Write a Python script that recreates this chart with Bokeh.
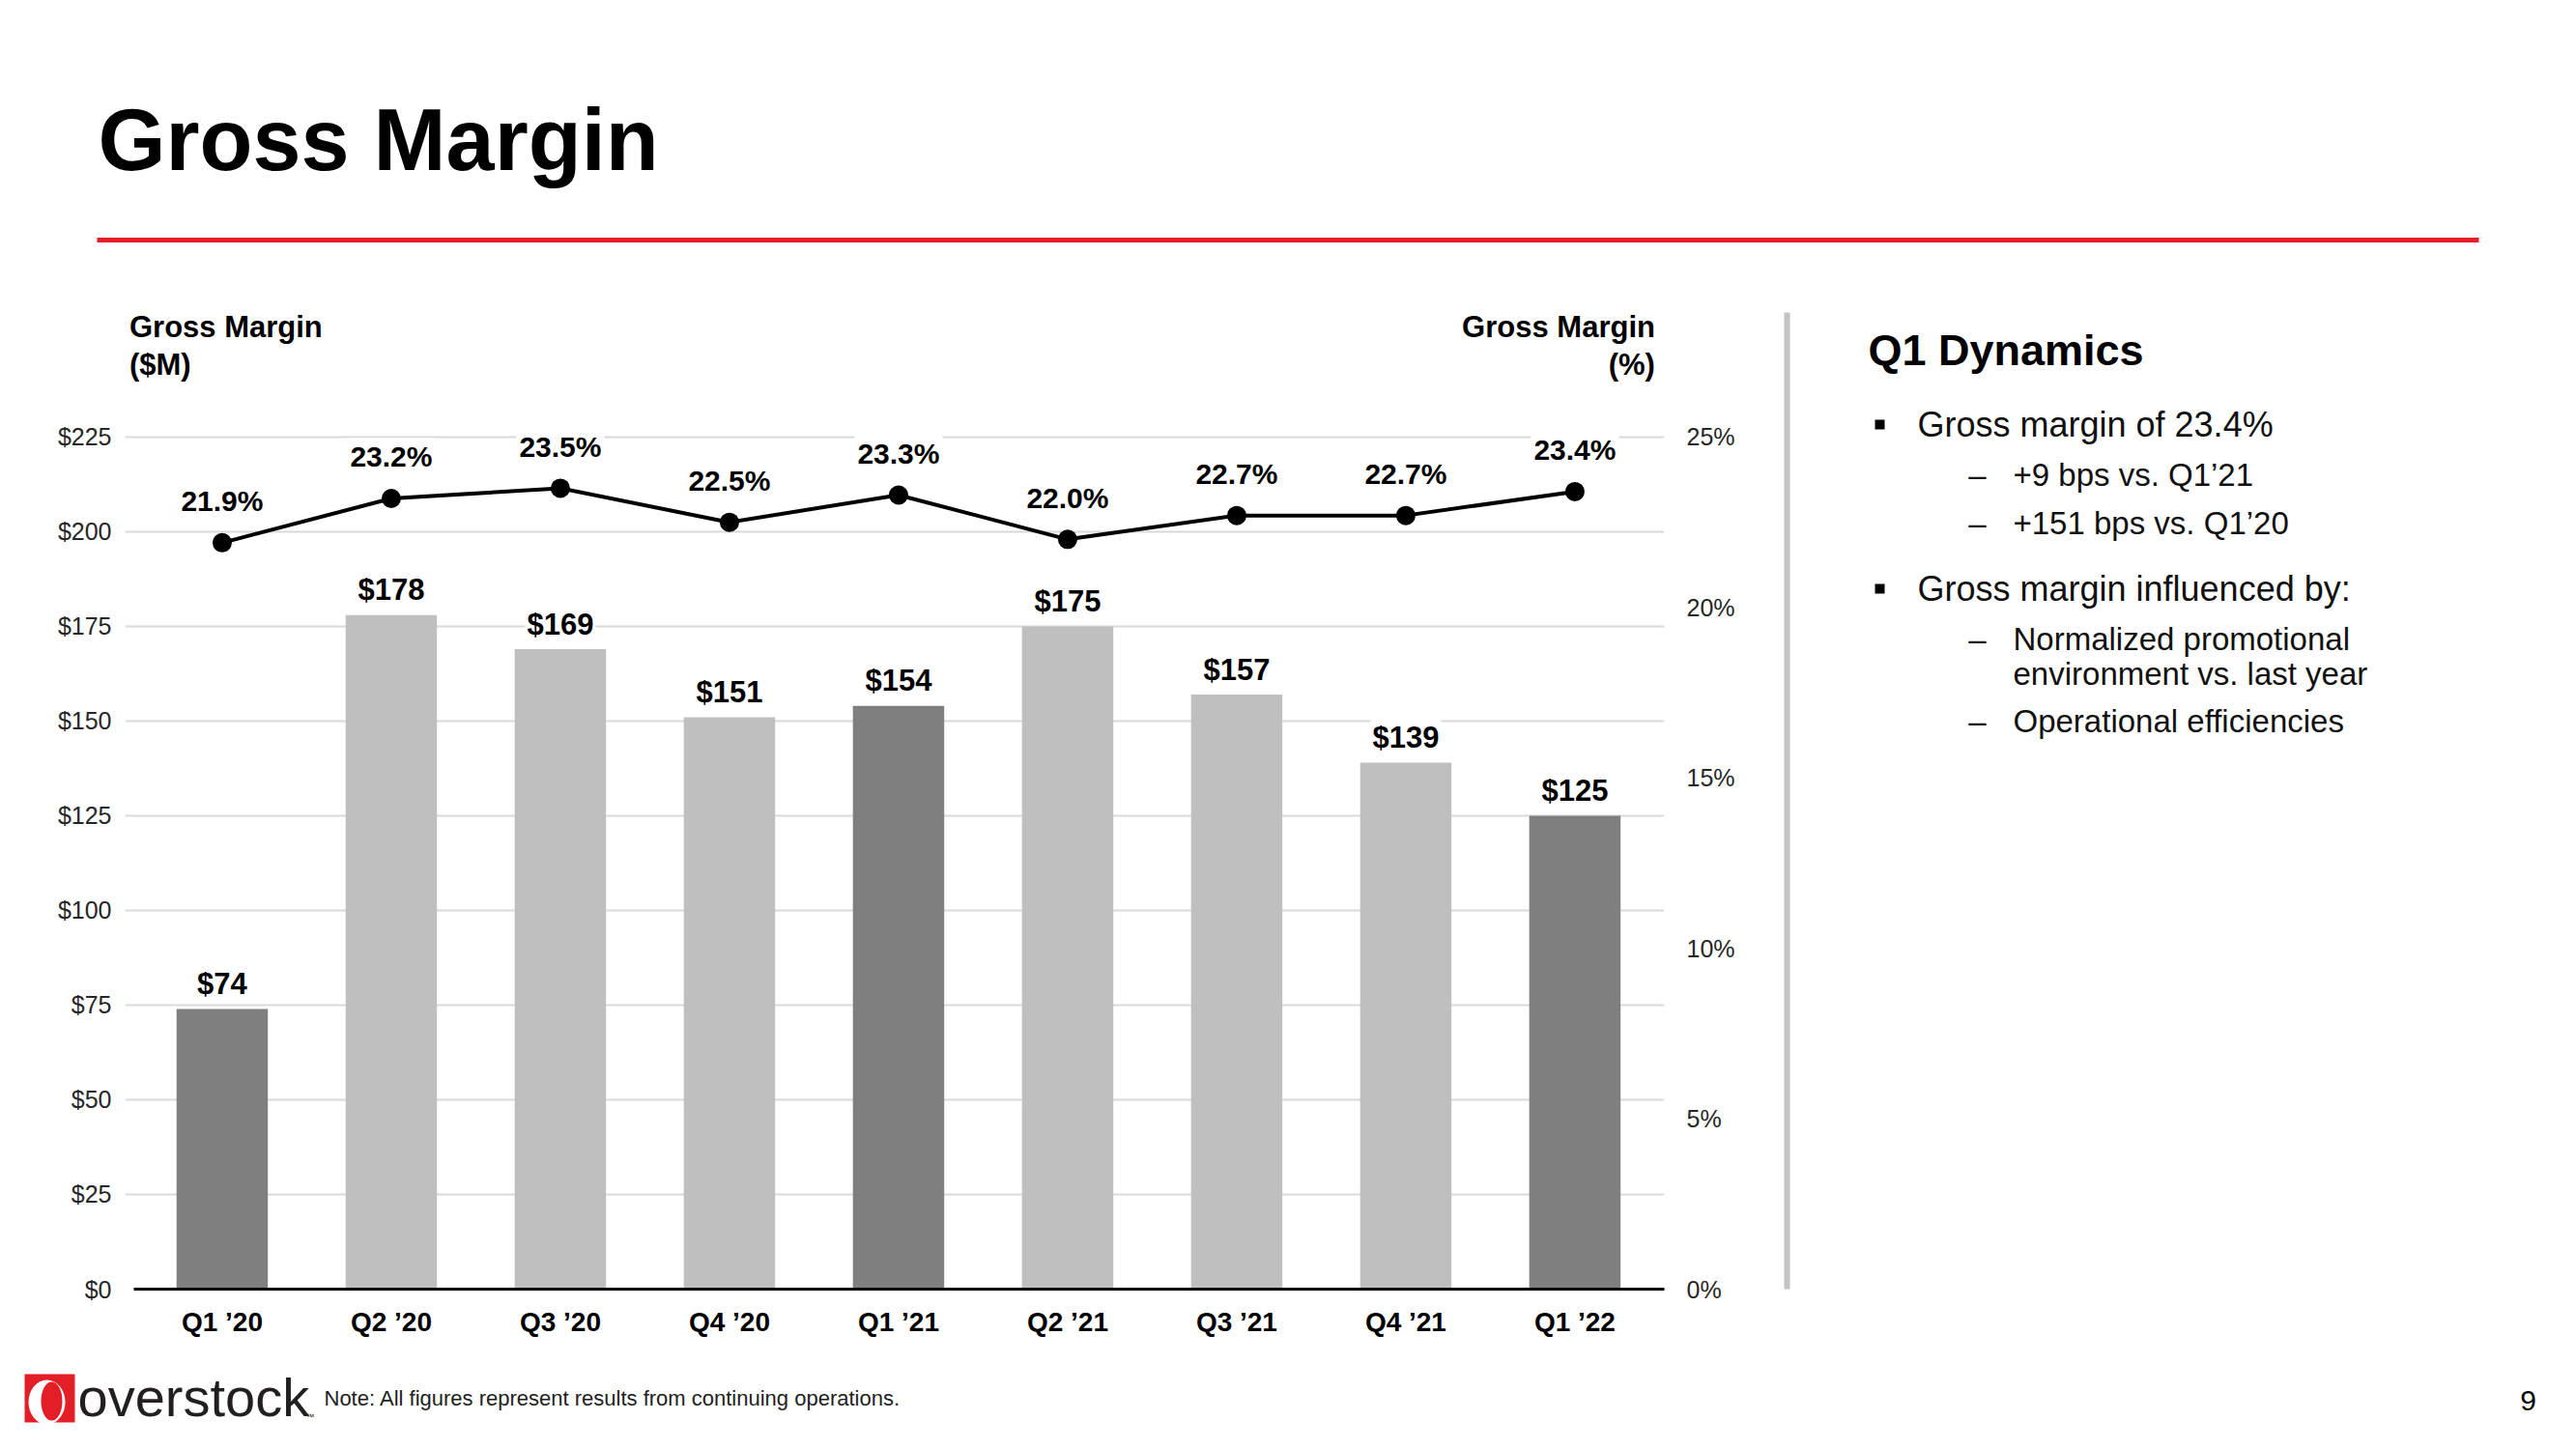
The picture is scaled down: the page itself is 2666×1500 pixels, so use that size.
from bokeh.plotting import figure
from bokeh.models import Range1d, LinearAxis, FixedTicker, PrintfTickFormatter, ColumnDataSource
from bokeh.layouts import column, row
from bokeh.embed import file_html
from bokeh.resources import INLINE
from bokeh.core.properties import value

# ---------------- data ----------------
quarters = ["Q1 ’20", "Q2 ’20", "Q3 ’20", "Q4 ’20", "Q1 ’21", "Q2 ’21", "Q3 ’21", "Q4 ’21", "Q1 ’22"]
gross_margin_musd = [74, 178, 169, 151, 154, 175, 157, 139, 125]
gross_margin_pct = [21.9, 23.2, 23.5, 22.5, 23.3, 22.0, 22.7, 22.7, 23.4]
usd_ticks = [0, 25, 50, 75, 100, 125, 150, 175, 200, 225]
pct_ticks = [0, 5, 10, 15, 20, 25]

title_text = "Gross Margin"
left_axis_title = ["Gross Margin", "($M)"]
right_axis_title = ["Gross Margin", "(%)"]
panel_title = "Q1 Dynamics"
bullet_1 = "Gross margin of 23.4%"
bullet_1_subs = ["+9 bps vs. Q1’21", "+151 bps vs. Q1’20"]
bullet_2 = "Gross margin influenced by:"
bullet_2_subs = [["Normalized promotional", "environment vs. last year"], ["Operational efficiencies"]]
note_text = "Note: All figures represent results from continuing operations."
page_number = "9"

FONT = value("Liberation Sans")
RED = "#E31E26"
DARK = "#7F7F7F"
LIGHT = "#BFBFBF"

TOTAL_W, TOTAL_H = 2650, 1484
HEAD_H = 298
CH_W, CH_H = 1830, 1102
FOOT_H = TOTAL_H - HEAD_H - CH_H
TOP_B, BOT_B = 22, 66


def blank(w, h, x0, y0, y1, **kw):
    f = figure(width=w, height=h, output_backend="svg", toolbar_location=None,
               x_range=Range1d(x0, x0 + w), y_range=Range1d(y1, y0),
               x_axis_type=None, y_axis_type=None, min_border=0, **kw)
    f.outline_line_color = None
    f.grid.visible = False
    return f


# ---------------- header (page coordinates) ----------------
head = blank(TOTAL_W, HEAD_H, 0, 0, HEAD_H)
head.text(x=[101], y=[144], text=[title_text], text_font=FONT, text_font_style="bold",
          text_font_size="90px", text_color="black", text_baseline="middle")
head.segment(x0=[100], y0=[248], x1=[2565], y1=[248], line_color=RED, line_width=5)

# ---------------- chart ----------------
idx = list(range(len(quarters)))
y_end = 258.67
ch = figure(width=CH_W, height=CH_H, output_backend="svg", toolbar_location=None,
            x_range=Range1d(-0.574, 8.529), y_range=Range1d(0, y_end),
            min_border_left=129, min_border_right=108, min_border_top=TOP_B, min_border_bottom=BOT_B)
ch.extra_y_ranges = {"pct": Range1d(0, y_end * pct_ticks[-1] / usd_ticks[-1])}
ch.outline_line_color = None
ch.background_fill_color = "white"

ch.xgrid.visible = False
ch.ygrid.ticker = FixedTicker(ticks=usd_ticks)
ch.ygrid.grid_line_color = "#D9D9D9"
ch.ygrid.grid_line_width = 2

ya = ch.yaxis[0]
ya.ticker = FixedTicker(ticks=usd_ticks)
ya.formatter = PrintfTickFormatter(format="$%d")
ya.axis_line_color = None
ya.major_tick_line_color = None
ya.minor_tick_line_color = None
ya.major_label_standoff = 8
ya.major_label_text_font = "Liberation Sans"
ya.major_label_text_font_size = "25px"
ya.major_label_text_color = "#262626"

xa = ch.xaxis[0]
xa.ticker = FixedTicker(ticks=idx)
xa.major_label_overrides = {i: q for i, q in enumerate(quarters)}
xa.axis_line_color = "black"
xa.axis_line_width = 3
xa.bounds = (-0.52, 8.529)
xa.major_tick_line_color = None
xa.minor_tick_line_color = None
xa.major_label_standoff = 12
xa.major_label_text_font = "Liberation Sans"
xa.major_label_text_font_style = "bold"
xa.major_label_text_font_size = "28px"
xa.major_label_text_color = "black"

ra = LinearAxis(y_range_name="pct", ticker=FixedTicker(ticks=pct_ticks),
                formatter=PrintfTickFormatter(format="%d%%"))
ra.axis_line_color = None
ra.major_tick_line_color = None
ra.minor_tick_line_color = None
ra.major_label_standoff = 17
ra.major_label_text_font = "Liberation Sans"
ra.major_label_text_font_size = "25px"
ra.major_label_text_color = "#262626"
ch.add_layout(ra, "right")

src = ColumnDataSource(dict(
    x=idx,
    usd=gross_margin_musd,
    pct=gross_margin_pct,
    color=[DARK if q.startswith("Q1") else LIGHT for q in quarters],
    usd_lbl=[f"${v}" for v in gross_margin_musd],
    pct_lbl=[f"{v:.1f}%" for v in gross_margin_pct],
))

ch.vbar(x="x", top="usd", width=0.54, fill_color="color", line_color=None, source=src)
ch.text(x="x", y="usd", text="usd_lbl", source=src, text_align="center", text_baseline="middle",
        y_offset=-26, text_font=FONT, text_font_style="bold", text_font_size="31px",
        text_color="black", background_fill_color="white", padding=2)
ch.line(x="x", y="pct", source=src, y_range_name="pct", line_color="black", line_width=4)
ch.scatter(x="x", y="pct", source=src, y_range_name="pct", size=20, fill_color="black", line_color=None)
ch.text(x="x", y="pct", text="pct_lbl", source=src, y_range_name="pct", text_align="center",
        text_baseline="middle", y_offset=-43, text_font=FONT, text_font_style="bold",
        text_font_size="30px", text_color="black", background_fill_color="white", padding=3)

# axis titles anchored to first / last category and top tick
ch.text(x=[idx[0], idx[0]], y=[usd_ticks[-1], usd_ticks[-1]], text=left_axis_title,
        x_offset=-96, y_offset=[-114, -75], text_align="left", text_baseline="middle",
        text_font=FONT, text_font_style="bold", text_font_size="31px", text_color="black")
ch.text(x=[idx[-1], idx[-1]], y=[usd_ticks[-1], usd_ticks[-1]], text=right_axis_title,
        x_offset=83, y_offset=[-114, -75], text_align="right", text_baseline="middle",
        text_font=FONT, text_font_style="bold", text_font_size="31px", text_color="black")

# ---------------- right panel (page coordinates; frame aligned with the chart frame) ----------------
PW = TOTAL_W - CH_W
rp = figure(width=PW, height=CH_H, output_backend="svg", toolbar_location=None,
            x_range=Range1d(CH_W, TOTAL_W), y_range=Range1d(HEAD_H + CH_H - BOT_B, HEAD_H + TOP_B),
            x_axis_type=None, y_axis_type=None,
            min_border_left=0, min_border_right=0, min_border_top=TOP_B, min_border_bottom=BOT_B)
rp.outline_line_color = None
rp.grid.visible = False
rp.segment(x0=[1849], y0=[323], x1=[1849], y1=[1362], line_color="#C3C3C3", line_width=6)
rp.text(x=[1933], y=[362], text=[panel_title], text_font=FONT, text_font_style="bold",
        text_font_size="45px", text_color="black", text_baseline="middle")

bx, tx, dx, sx = 1945, 1984, 2046, 2083
rp.scatter(x=[bx, bx], y=[439, 609], marker="square", size=10, fill_color="black", line_color=None)
rp.text(x=[tx, tx], y=[439, 609], text=[bullet_1, bullet_2], text_font=FONT,
        text_font_size="36px", text_color="#111111", text_baseline="middle")

sub_lines = [bullet_1_subs[0], bullet_1_subs[1]] + bullet_2_subs[0] + bullet_2_subs[1]
sub_y = [491, 541, 661, 697, 746]
rp.text(x=[sx] * len(sub_lines), y=sub_y, text=sub_lines, text_font=FONT,
        text_font_size="33px", text_color="#111111", text_baseline="middle")
rp.text(x=[dx] * 4, y=[491, 541, 661, 746], text=["–"] * 4, text_font=FONT,
        text_font_size="33px", text_color="#111111", text_baseline="middle", text_align="center")

# ---------------- footer (page coordinates) ----------------
ft = blank(TOTAL_W, FOOT_H, 0, HEAD_H + CH_H, TOTAL_H)
ft.quad(left=[25], right=[77], top=[1422], bottom=[1472], fill_color=RED, line_color=None)
ft.ellipse(x=[48], y=[1451], width=[38], height=[46], fill_color="white", line_color=None)
ft.ellipse(x=[53], y=[1450], width=[22], height=[40], fill_color=RED, line_color=None)
ft.text(x=[80], y=[1446], text=["overstock"], text_font=FONT, text_font_size="56px",
        text_color="#231F20", text_baseline="middle")
ft.text(x=[316], y=[1466], text=["™"], text_font=FONT, text_font_size="9px",
        text_color="#231F20", text_baseline="middle")
ft.text(x=[335], y=[1447], text=[note_text], text_font=FONT, text_font_size="22px",
        text_color="#222222", text_baseline="middle")
ft.text(x=[2616], y=[1449], text=[page_number], text_font=FONT, text_font_size="30px",
        text_color="black", text_baseline="middle", text_align="center")

layout = column(head, row(ch, rp), ft)
open("out.html", "w").write(file_html(layout, INLINE))
